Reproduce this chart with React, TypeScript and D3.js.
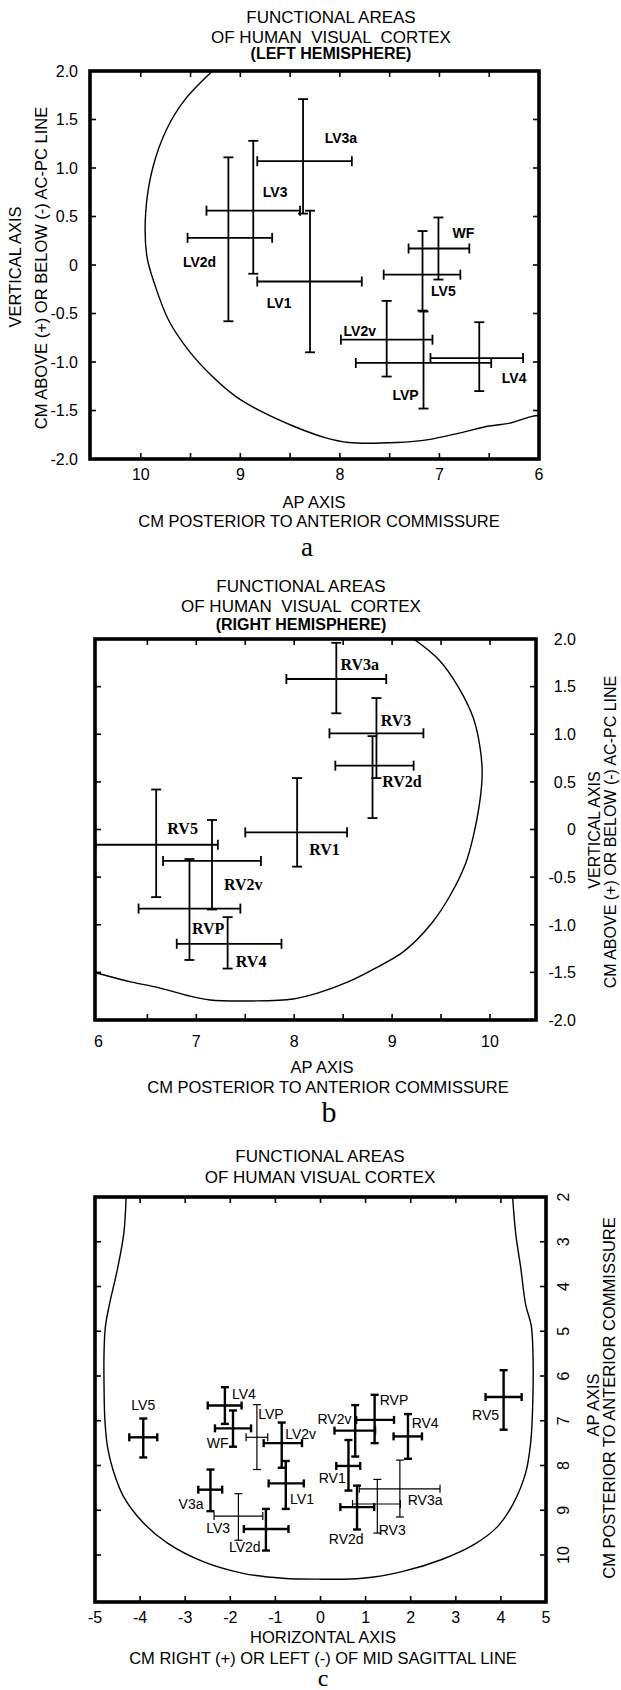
import React, { useEffect } from 'react';
import * as d3 from 'd3';

const W = 621;
const H = 1690;
const SANS = '"Liberation Sans", Arial, sans-serif';
const SERIF = '"Liberation Serif", "Times New Roman", serif';

// ---- panel a : left hemisphere (x = cm posterior, y = cm above AC-PC) ----
const leftAreas = [
  { name: 'LV3a', x: 8.37, x0: 8.83, x1: 7.88, y: 1.07, y0: 1.71, y1: 0.53 },
  { name: 'LV3', x: 8.87, x0: 9.34, x1: 8.4, y: 0.56, y0: 1.28, y1: -0.09 },
  { name: 'LV2d', x: 9.12, x0: 9.53, x1: 8.68, y: 0.28, y0: 1.11, y1: -0.58 },
  { name: 'LV1', x: 8.3, x0: 8.83, x1: 7.78, y: -0.17, y0: 0.56, y1: -0.9 },
  { name: 'WF', x: 7.01, x0: 7.31, x1: 6.7, y: 0.17, y0: 0.49, y1: -0.15 },
  { name: 'LV5', x: 7.17, x0: 7.56, x1: 6.79, y: -0.1, y0: 0.35, y1: -0.47 },
  { name: 'LV2v', x: 7.53, x0: 7.99, x1: 7.07, y: -0.77, y0: -0.37, y1: -1.15 },
  { name: 'LVP', x: 7.16, x0: 7.84, x1: 6.48, y: -1.01, y0: -0.48, y1: -1.48 },
  { name: 'LV4', x: 6.6, x0: 7.09, x1: 6.16, y: -0.96, y0: -0.59, y1: -1.3 },
];
const leftLabels: [string, number, number][] = [
  ['LV3a', 7.99, 1.31], ['LV3', 8.65, 0.75], ['LV2d', 9.41, 0.03], ['LV1', 8.61, -0.39],
  ['WF', 6.76, 0.33], ['LV5', 6.96, -0.27], ['LV2v', 7.8, -0.68], ['LVP', 7.34, -1.34],
  ['LV4', 6.25, -1.16],
];
const leftOutline: [number, number][] = [
  [9.28, 2.0], [9.56, 1.7], [9.74, 1.4], [9.88, 1.0], [9.95, 0.55], [9.94, 0.1], [9.86, -0.2],
  [9.72, -0.57], [9.52, -0.88], [9.28, -1.15], [9.04, -1.36], [8.79, -1.51], [8.47, -1.66],
  [8.15, -1.78], [7.91, -1.83], [7.43, -1.83], [7.11, -1.8], [6.79, -1.73], [6.5, -1.66],
  [6.29, -1.63], [6.07, -1.56], [5.98, -1.55],
];

// ---- panel b : right hemisphere ----
const rightAreas = [
  { name: 'RV3a', x: 8.43, x0: 7.92, x1: 8.94, y: 1.58, y0: 1.96, y1: 1.22 },
  { name: 'RV3', x: 8.84, x0: 8.36, x1: 9.32, y: 1.01, y0: 1.38, y1: 0.54 },
  { name: 'RV2d', x: 8.8, x0: 8.42, x1: 9.22, y: 0.67, y0: 0.98, y1: 0.12 },
  { name: 'RV1', x: 8.03, x0: 7.5, x1: 8.54, y: -0.03, y0: 0.54, y1: -0.39 },
  { name: 'RV5', x: 6.59, x0: 5.97, x1: 7.22, y: -0.16, y0: 0.42, y1: -0.71 },
  { name: 'RV2v', x: 7.16, x0: 6.66, x1: 7.66, y: -0.33, y0: 0.1, y1: -0.84 },
  { name: 'RVP', x: 6.93, x0: 6.41, x1: 7.45, y: -0.83, y0: -0.31, y1: -1.37 },
  { name: 'RV4', x: 7.32, x0: 6.8, x1: 7.87, y: -1.2, y0: -0.92, y1: -1.46 },
];
const rightLabels: [string, number, number][] = [
  ['RV3a', 8.67, 1.73], ['RV3', 9.04, 1.15], ['RV2d', 9.1, 0.51], ['RV1', 8.31, -0.21],
  ['RV5', 6.86, 0.01], ['RV2v', 7.48, -0.57], ['RVP', 7.12, -1.04], ['RV4', 7.56, -1.38],
];
const rightOutline: [number, number][] = [
  [9.22, 2.0], [9.48, 1.78], [9.68, 1.49], [9.83, 1.17], [9.9, 0.85], [9.92, 0.57], [9.89, 0.25],
  [9.83, -0.07], [9.75, -0.36], [9.6, -0.68], [9.4, -0.99], [9.12, -1.28], [8.84, -1.45],
  [8.55, -1.6], [8.23, -1.72], [7.99, -1.78], [7.58, -1.8], [7.14, -1.79], [6.9, -1.74],
  [6.61, -1.66], [6.33, -1.6], [6.03, -1.52], [5.96, -1.5],
];

// ---- panel c : top view (x = cm right/left of midline, y = cm posterior) ----
const topAreas = [
  { name: 'LV5', x: -3.93, x0: -4.24, x1: -3.62, y: 7.37, y0: 6.95, y1: 7.82 },
  { name: 'LV4', x: -2.12, x0: -2.5, x1: -1.75, y: 6.66, y0: 6.25, y1: 7.07 },
  { name: 'WF', x: -1.94, x0: -2.34, x1: -1.54, y: 7.17, y0: 6.77, y1: 7.58 },
  { name: 'LVP', x: -1.41, x0: -1.65, x1: -1.17, y: 7.37, y0: 6.64, y1: 8.09 },
  { name: 'LV2v', x: -0.86, x0: -1.26, x1: -0.41, y: 7.5, y0: 7.04, y1: 8.05 },
  { name: 'LV1', x: -0.77, x0: -1.15, x1: -0.37, y: 8.4, y0: 7.9, y1: 8.97 },
  { name: 'LV3a', x: -2.44, x0: -2.71, x1: -2.18, y: 8.54, y0: 8.09, y1: 9.02 },
  { name: 'LV3', x: -1.82, x0: -2.36, x1: -1.28, y: 9.13, y0: 8.63, y1: 9.67 },
  { name: 'LV2d', x: -1.21, x0: -1.7, x1: -0.71, y: 9.42, y0: 8.97, y1: 9.9 },
  { name: 'RVP', x: 1.2, x0: 0.79, x1: 1.63, y: 6.98, y0: 6.42, y1: 7.5 },
  { name: 'RV2v', x: 0.77, x0: 0.31, x1: 1.21, y: 7.22, y0: 6.65, y1: 7.8 },
  { name: 'RV4', x: 1.94, x0: 1.62, x1: 2.25, y: 7.35, y0: 6.85, y1: 7.85 },
  { name: 'RV5', x: 4.06, x0: 3.66, x1: 4.46, y: 6.47, y0: 5.87, y1: 7.2 },
  { name: 'RV1', x: 0.62, x0: 0.35, x1: 0.88, y: 8.01, y0: 7.43, y1: 8.56 },
  { name: 'RV3a', x: 1.76, x0: 0.86, x1: 2.65, y: 8.52, y0: 7.88, y1: 9.15 },
  { name: 'RV3', x: 1.26, x0: 0.71, x1: 1.77, y: 8.86, y0: 8.31, y1: 9.51 },
  { name: 'RV2d', x: 0.81, x0: 0.44, x1: 1.19, y: 8.93, y0: 8.45, y1: 9.43 },
];
const topLabels: [string, number, number][] = [
  ['LV5', -3.93, 6.65], ['LV4', -1.7, 6.4], ['LVP', -1.1, 6.85], ['LV2v', -0.44, 7.3],
  ['WF', -2.28, 7.49], ['LV1', -0.41, 8.74], ['V3a', -2.87, 8.85], ['LV3', -2.27, 9.4],
  ['LV2d', -1.68, 9.81], ['RVP', 1.63, 6.53], ['RV2v', 0.31, 6.96], ['RV4', 2.32, 7.04],
  ['RV5', 3.66, 6.87], ['RV1', 0.26, 8.27], ['RV3a', 2.32, 8.76], ['RV3', 1.59, 9.45],
  ['RV2d', 0.57, 9.64],
];
const thinTop = ['LV3', 'RV3a', 'RV3', 'LVP'];
const topOutline: [number, number][] = [
  [-4.31, 2.0], [-4.36, 2.8], [-4.5, 3.6], [-4.68, 4.4], [-4.77, 4.9], [-4.8, 5.5], [-4.8, 6.2],
  [-4.78, 7.0], [-4.72, 7.6], [-4.6, 8.1], [-4.37, 8.69], [-3.93, 9.28], [-3.4, 9.73],
  [-2.6, 10.15], [-1.72, 10.41], [-0.84, 10.52], [0, 10.54], [0.93, 10.52], [1.81, 10.37],
  [2.69, 10.1], [3.4, 9.77], [3.93, 9.36], [4.28, 8.84], [4.55, 8.16], [4.66, 7.49],
  [4.7, 6.81], [4.71, 5.46], [4.67, 4.86], [4.55, 4.41], [4.44, 3.58], [4.33, 2.83], [4.26, 2.0],
];

const apTicks = [6, 7, 8, 9, 10];
const vertTicks = [2, 1.5, 1, 0.5, 0, -0.5, -1, -1.5, -2];
const horizTicks = [-5, -4, -3, -2, -1, 0, 1, 2, 3, 4, 5];
const depthTicks = [2, 3, 4, 5, 6, 7, 8, 9, 10];

// plain hyphen, as in the printed figure
const fmtV = (v: number) => (v === 0 ? '0' : v.toFixed(1));

type Area = { name: string; x: number; x0: number; x1: number; y: number; y0: number; y1: number };
type Sc = d3.ScaleLinear<number, number>;

function Frame({ xs, ys, xMarks, yMarks, id }: { xs: Sc; ys: Sc; xMarks: number[]; yMarks: number[]; id: string }) {
  const [l, r] = d3.extent(xs.range()) as [number, number];
  const [t, b] = d3.extent(ys.range()) as [number, number];
  const len = 6;
  return (
    <g stroke="#000" fill="none">
      <defs>
        <clipPath id={id}>
          <rect x={l} y={t} width={r - l} height={b - t} />
        </clipPath>
      </defs>
      {xMarks.map((v) => (
        <g key={'x' + v} strokeWidth={1.6}>
          <line x1={xs(v)} x2={xs(v)} y1={t} y2={t + len} />
          <line x1={xs(v)} x2={xs(v)} y1={b} y2={b - len} />
        </g>
      ))}
      {yMarks.map((v) => (
        <g key={'y' + v} strokeWidth={1.6}>
          <line x1={l} x2={l + len} y1={ys(v)} y2={ys(v)} />
          <line x1={r} x2={r - len} y1={ys(v)} y2={ys(v)} />
        </g>
      ))}
      <rect x={l} y={t} width={r - l} height={b - t} strokeWidth={3.6} />
    </g>
  );
}

function Crosses({ data, xs, ys, cap, widthOf }: { data: Area[]; xs: Sc; ys: Sc; cap: number; widthOf: (n: string) => number }) {
  return (
    <g stroke="#000" fill="none">
      {data.map((d) => {
        const cy = ys(d.y);
        const cx = xs(d.x);
        return (
          <g key={d.name} strokeWidth={widthOf(d.name)}>
            <line x1={xs(d.x0)} x2={xs(d.x1)} y1={cy} y2={cy} />
            <line x1={xs(d.x0)} x2={xs(d.x0)} y1={cy - cap} y2={cy + cap} />
            <line x1={xs(d.x1)} x2={xs(d.x1)} y1={cy - cap} y2={cy + cap} />
            <line x1={cx} x2={cx} y1={ys(d.y0)} y2={ys(d.y1)} />
            <line x1={cx - cap} x2={cx + cap} y1={ys(d.y0)} y2={ys(d.y0)} />
            <line x1={cx - cap} x2={cx + cap} y1={ys(d.y1)} y2={ys(d.y1)} />
          </g>
        );
      })}
    </g>
  );
}

function Outline({ pts, xs, ys, clip }: { pts: [number, number][]; xs: Sc; ys: Sc; clip: string }) {
  const line = d3
    .line<[number, number]>()
    .x((d) => xs(d[0]))
    .y((d) => ys(d[1]))
    .curve(d3.curveCatmullRom.alpha(0.5));
  return <path d={line(pts) || ''} fill="none" stroke="#000" strokeWidth={1.4} clipPath={`url(#${clip})`} />;
}

function Labels({ items, xs, ys, font, size, weight }: { items: [string, number, number][]; xs: Sc; ys: Sc; font: string; size: number; weight: string }) {
  return (
    <g fontFamily={font} fontSize={size} fontWeight={weight} textAnchor="middle">
      {items.map(([n, x, y]) => (
        <text key={n} x={xs(x)} y={ys(y)} dy="0.36em">
          {n}
        </text>
      ))}
    </g>
  );
}

function Title({ x, y, lines, bold }: { x: number; y: number[]; lines: string[]; bold?: string }) {
  return (
    <g fontFamily={SANS} textAnchor="middle">
      {lines.map((s, i) => (
        <text key={s} x={x} y={y[i]} fontSize={17} style={{ whiteSpace: 'pre' }}>
          {s}
        </text>
      ))}
      {bold && (
        <text x={x} y={y[lines.length]} fontSize={16} fontWeight="bold">
          {bold}
        </text>
      )}
    </g>
  );
}

function PanelA() {
  const xs = d3.scaleLinear().domain([10.51, 6]).range([90, 539]);
  const ys = d3.scaleLinear().domain([-2, 2]).range([459, 71]);
  return (
    <g>
      <Title x={331} y={[23, 43, 59]} lines={['FUNCTIONAL AREAS', 'OF HUMAN  VISUAL  CORTEX']} bold="(LEFT HEMISPHERE)" />
      <Outline pts={leftOutline} xs={xs} ys={ys} clip="clipA" />
      <Crosses data={leftAreas} xs={xs} ys={ys} cap={5} widthOf={() => 1.8} />
      <Labels items={leftLabels} xs={xs} ys={ys} font={SANS} size={14} weight="bold" />
      <Frame xs={xs} ys={ys} xMarks={d3.range(6.5, 10.01, 0.5)} yMarks={d3.range(-1.5, 1.51, 0.5)} id="clipA" />
      <g fontFamily={SANS} fontSize={16}>
        {apTicks.map((v) => (
          <text key={v} x={xs(v)} y={480} textAnchor="middle">{v}</text>
        ))}
        {vertTicks.map((v) => (
          <text key={v} x={78} y={ys(v)} dy="0.36em" textAnchor="end">{fmtV(v)}</text>
        ))}
        <text x={314} y={508} textAnchor="middle" fontSize={16.5}>AP AXIS</text>
        <text x={319} y={527} textAnchor="middle" fontSize={16.5}>CM POSTERIOR TO ANTERIOR COMMISSURE</text>
        <text transform="translate(21,267) rotate(-90)" textAnchor="middle" fontSize={16.5}>VERTICAL AXIS</text>
        <text transform="translate(47,268) rotate(-90)" textAnchor="middle" fontSize={16.5}>CM ABOVE (+) OR BELOW (-) AC-PC LINE</text>
      </g>
      <text x={307} y={556} textAnchor="middle" fontFamily={SERIF} fontSize={27}>a</text>
    </g>
  );
}

function PanelB() {
  const xs = d3.scaleLinear().domain([5.965, 10.47]).range([95, 536]);
  const ys = d3.scaleLinear().domain([-2, 2]).range([1020, 639]);
  return (
    <g>
      <Title x={301} y={[592, 612, 630]} lines={['FUNCTIONAL AREAS', 'OF HUMAN  VISUAL  CORTEX']} bold="(RIGHT HEMISPHERE)" />
      <Outline pts={rightOutline} xs={xs} ys={ys} clip="clipB" />
      <Crosses data={rightAreas} xs={xs} ys={ys} cap={5} widthOf={() => 1.8} />
      <Labels items={rightLabels} xs={xs} ys={ys} font={SERIF} size={16} weight="bold" />
      <Frame xs={xs} ys={ys} xMarks={d3.range(6.5, 10.01, 0.5)} yMarks={d3.range(-1.5, 1.51, 0.5)} id="clipB" />
      <g fontFamily={SANS} fontSize={16}>
        {apTicks.map((v) => (
          <text key={v} x={xs(v)} y={1047} textAnchor="middle">{v}</text>
        ))}
        {vertTicks.map((v) => (
          <text key={v} x={576} y={ys(v)} dy="0.36em" textAnchor="end">{fmtV(v)}</text>
        ))}
        <text x={322} y={1073} textAnchor="middle" fontSize={16.5}>AP AXIS</text>
        <text x={328} y={1093} textAnchor="middle" fontSize={16.5}>CM POSTERIOR TO ANTERIOR COMMISSURE</text>
        <text transform="translate(600,830) rotate(-90)" textAnchor="middle" fontSize={16}>VERTICAL AXIS</text>
        <text transform="translate(616,832) rotate(-90)" textAnchor="middle" fontSize={16}>CM ABOVE (+) OR BELOW (-) AC-PC LINE</text>
      </g>
      <text x={329} y={1122} textAnchor="middle" fontFamily={SERIF} fontSize={30}>b</text>
    </g>
  );
}

function PanelC() {
  const xs = d3.scaleLinear().domain([-5, 5]).range([95, 546]);
  const ys = d3.scaleLinear().domain([2, 11.05]).range([1197, 1602]);
  return (
    <g>
      <Title x={320} y={[1162, 1183]} lines={['FUNCTIONAL AREAS', 'OF HUMAN VISUAL CORTEX']} />
      <Outline pts={topOutline} xs={xs} ys={ys} clip="clipC" />
      <Crosses data={topAreas} xs={xs} ys={ys} cap={4} widthOf={(n) => (thinTop.includes(n) ? 1.2 : 2.4)} />
      <Labels items={topLabels} xs={xs} ys={ys} font={SANS} size={14} weight="normal" />
      <Frame xs={xs} ys={ys} xMarks={d3.range(-4, 4.01, 1)} yMarks={d3.range(3, 10.01, 1)} id="clipC" />
      <g fontFamily={SANS} fontSize={16}>
        {horizTicks.map((v) => (
          <text key={v} x={xs(v)} y={1623} textAnchor="middle">{v}</text>
        ))}
        {depthTicks.map((v) => (
          <text key={v} transform={`translate(569,${ys(v)}) rotate(-90)`} textAnchor="middle">{v}</text>
        ))}
        <text x={323} y={1643} textAnchor="middle" fontSize={16.5}>HORIZONTAL AXIS</text>
        <text x={323} y={1664} textAnchor="middle" fontSize={16.5}>CM RIGHT (+) OR LEFT (-) OF MID SAGITTAL LINE</text>
        <text transform="translate(599,1405) rotate(-90)" textAnchor="middle" fontSize={16.5}>AP AXIS</text>
        <text transform="translate(615,1398) rotate(-90)" textAnchor="middle" fontSize={16.5}>CM POSTERIOR TO ANTERIOR COMMISSURE</text>
      </g>
      <text x={323} y={1686} textAnchor="middle" fontFamily={SERIF} fontSize={24}>c</text>
    </g>
  );
}

export default function App() {
  useEffect(() => {
    document.body.style.margin = '0';
  }, []);
  return (
    <svg width={W} height={H} viewBox={`0 0 ${W} ${H}`} style={{ display: 'block', background: '#fff' }}>
      <rect width={W} height={H} fill="#fff" />
      <PanelA />
      <PanelB />
      <PanelC />
    </svg>
  );
}
